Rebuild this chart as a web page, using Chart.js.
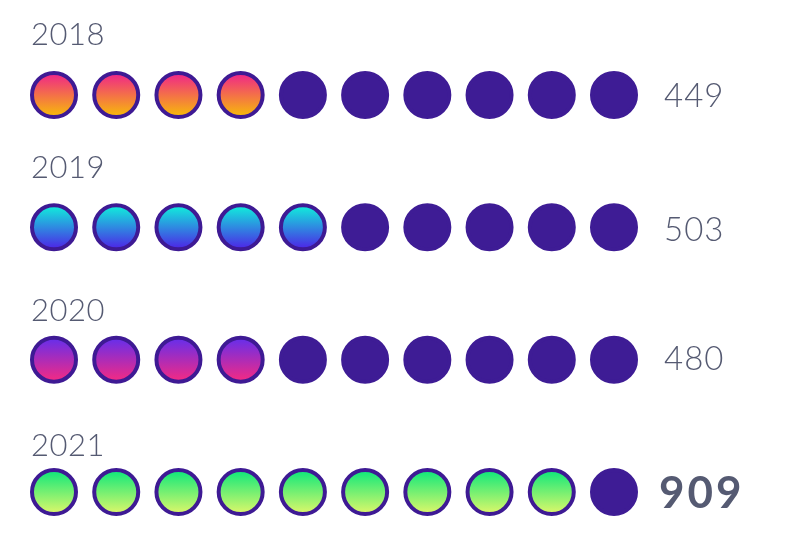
<!DOCTYPE html>
<html>
<head>
<meta charset="utf-8">
<script src="https://cdn.jsdelivr.net/npm/chart.js@4/dist/chart.umd.min.js"></script>
<style>
  html, body { margin: 0; padding: 0; background: #ffffff; }
  #wrap { width: 800px; height: 550px; }
</style>
</head>
<body>
<div id="wrap"><canvas id="c" width="800" height="550"></canvas></div>
<script>
// ---- data ----
const years = ['2018', '2019', '2020', '2021'];
const values = [449, 503, 480, 909];
const filledDots = [4, 5, 4, 9];
const dotSlots = [0, 1, 2, 3, 4, 5, 6, 7, 8, 9];
const highlightRow = [false, false, false, true];

// ---- styles ----
const topColors = ['#f02a85', '#12e8dc', '#6a2ee8', '#15e87a'];
const bottomColors = ['#f7b60c', '#4b2be6', '#f02a86', '#d6f76a'];
const emptyColor = '#3e1c95';
const ringColor = '#3e1a94';
const textColor = '#555a72';
const DOT_R = 22;
const labelGap = [50, 49, 39, 36];     // year label baseline distance above the dot row
const valueDrop = [12, 14, 10, 16];    // value baseline distance below the dot row centre

function fillFor(row) {
  return function (ctx) {
    if (ctx.type !== 'data') return emptyColor;
    const i = ctx.dataIndex;
    if (i >= filledDots[row]) return emptyColor;
    const chart = ctx.chart;
    const ys = chart.scales.y;
    if (!ys || !chart.chartArea) return topColors[row];
    const cy = ys.getPixelForValue(row);
    const g = chart.ctx.createLinearGradient(0, cy - DOT_R + 2, 0, cy + DOT_R - 2);
    g.addColorStop(0, topColors[row]);
    g.addColorStop(1, bottomColors[row]);
    return g;
  };
}

const datasets = years.map((yr, row) => ({
  label: yr,
  data: dotSlots.map(s => ({ x: s, y: row })),
  pointRadius: DOT_R,
  pointHoverRadius: DOT_R,
  pointBorderWidth: 4,
  pointHoverBorderWidth: 4,
  pointBackgroundColor: fillFor(row),
  pointHoverBackgroundColor: fillFor(row),
  pointBorderColor: (ctx) => (ctx.dataIndex < filledDots[row] ? ringColor : emptyColor),
  pointHoverBorderColor: (ctx) => (ctx.dataIndex < filledDots[row] ? ringColor : emptyColor),
  clip: false,
  showLine: false
}));

const labelPlugin = {
  id: 'rowLabels',
  afterDatasetsDraw(chart) {
    const c = chart.ctx;
    const ys = chart.scales.y;
    c.save();
    c.fillStyle = textColor;
    c.textAlign = 'left';
    c.textBaseline = 'alphabetic';
    years.forEach((yr, row) => {
      const cy = ys.getPixelForValue(row);
      c.font = '300 31px Lato, "Open Sans", sans-serif';
      c.letterSpacing = '0.5px';
      c.fillText(yr, 31, cy - labelGap[row]);
      if (highlightRow[row]) {
        c.font = '700 44px Lato, "Open Sans", sans-serif';
        c.letterSpacing = '3px';
        c.fillText(String(values[row]), 659, cy + valueDrop[row]);
      } else {
        c.font = '300 33px Lato, "Open Sans", sans-serif';
        c.letterSpacing = '1px';
        c.fillText(String(values[row]), 664, cy + valueDrop[row]);
      }
    });
    c.restore();
  }
};

new Chart(document.getElementById('c'), {
  type: 'scatter',
  data: { datasets },
  options: {
    responsive: false,
    animation: false,
    events: [],
    layout: { padding: { left: 54, right: 186, top: 95, bottom: 58 } },
    scales: {
      x: { type: 'linear', min: 0, max: 9, display: false },
      y: { type: 'linear', min: 0, max: 3, reverse: true, display: false }
    },
    plugins: {
      legend: { display: false },
      tooltip: { enabled: false },
      title: { display: false }
    }
  },
  plugins: [labelPlugin]
});
</script>
</body>
</html>
